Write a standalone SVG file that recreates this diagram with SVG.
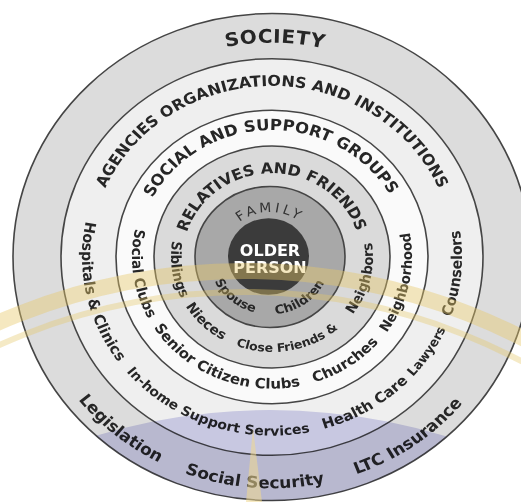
<svg xmlns="http://www.w3.org/2000/svg" width="521" height="502" viewBox="0 0 521 502">
<defs>
<style>
.ring{stroke:#454545;stroke-width:1.6}
.t{font-family:"DejaVu Sans","Liberation Sans",sans-serif;font-weight:bold;fill:#262626;text-anchor:middle}
.w{font-family:"DejaVu Sans","Liberation Sans",sans-serif;font-weight:bold;fill:#ffffff;text-anchor:middle}
</style>
<path id="p-soc-top" d="M -228,0 A 228 228 0 0 1 228,0"/>
<path id="p-soc-bot" d="M -213.04,-123 A 246 246 0 1 0 213.04,-123"/>
<path id="p-age-top" d="M -182,0 A 182 182 0 0 1 182,0"/>
<path id="p-age-bot" d="M -164.54,-95 A 190 190 0 1 0 164.54,-95"/>
<path id="p-sup-top" d="M -135,0 A 135 135 0 0 1 135,0"/>
<path id="p-sup-bot" d="M -121.24,-70 A 140 140 0 1 0 121.24,-70"/>
<path id="p-rel-top" d="M -89,0 A 89 89 0 0 1 89,0"/>
<path id="p-rel-bot" d="M -87.47,-50.5 A 101 101 0 1 0 87.47,-50.5"/>
<path id="p-fam-top" d="M -48,0 A 48 48 0 0 1 48,0"/>
<path id="p-fam-bot" d="M -52.83,-30.5 A 61 61 0 1 0 52.83,-30.5"/>
<clipPath id="outer-clip"><ellipse cx="272" cy="257" rx="259" ry="243.5"/></clipPath>
</defs>
<rect width="521" height="502" fill="#ffffff"/>
<g transform="translate(272,257) scale(1,0.94)">
  <g id="ring-society">
    <circle class="ring" r="259" fill="#dcdcdc"/>
    <text class="t" font-size="20" letter-spacing="0.5"><textPath href="#p-soc-top" startOffset="361">SOCIETY</textPath></text>
    <text class="t" font-size="17"><textPath href="#p-soc-bot" startOffset="345">Legislation</textPath></text>
    <text class="t" font-size="17"><textPath href="#p-soc-bot" startOffset="497">Social Security</textPath></text>
    <text class="t" font-size="17"><textPath href="#p-soc-bot" startOffset="667">LTC Insurance</textPath></text>
  </g>
  <g id="ring-agencies">
    <circle class="ring" r="211" fill="#efefef"/>
    <text class="t" font-size="16"><textPath href="#p-age-top" startOffset="286">AGENCIES ORGANIZATIONS AND INSTITUTIONS</textPath></text>
    <text class="t" font-size="15"><textPath href="#p-age-bot" startOffset="140">Hospitals &amp; Clinics</textPath></text>
    <text class="t" font-size="14"><textPath href="#p-age-bot" startOffset="334">In-home Support Services</textPath></text>
    <text class="t" font-size="15"><textPath href="#p-age-bot" startOffset="500">Health Care</textPath></text>
    <text class="t" font-size="13"><textPath href="#p-age-bot" startOffset="587">Lawyers</textPath></text>
    <text class="t" font-size="15"><textPath href="#p-age-bot" startOffset="678">Counselors</textPath></text>
  </g>
  <g id="ring-support-groups">
    <circle class="ring" r="156" fill="#fafafa"/>
    <text class="t" font-size="16.5"><textPath href="#p-sup-top" startOffset="210">SOCIAL AND SUPPORT GROUPS</textPath></text>
    <text class="t" font-size="14.5"><textPath href="#p-sup-bot" startOffset="92">Social Clubs</textPath></text>
    <text class="t" font-size="15"><textPath href="#p-sup-bot" startOffset="237">Senior Citizen Clubs</textPath></text>
    <text class="t" font-size="15"><textPath href="#p-sup-bot" startOffset="375">Churches</textPath></text>
    <text class="t" font-size="14"><textPath href="#p-sup-bot" startOffset="483">Neighborhood</textPath></text>
  </g>
  <g id="ring-relatives">
    <circle class="ring" r="118" fill="#dadada"/>
    <text class="t" font-size="16"><textPath href="#p-rel-top" startOffset="139">RELATIVES AND FRIENDS</textPath></text>
    <text class="t" font-size="14"><textPath href="#p-rel-bot" startOffset="67">Siblings</textPath></text>
    <text class="t" font-size="14"><textPath href="#p-rel-bot" startOffset="134">Nieces</textPath></text>
    <text class="t" font-size="12.5"><textPath href="#p-rel-bot" startOffset="229">Close Friends &amp;</textPath></text>
    <text class="t" font-size="14"><textPath href="#p-rel-bot" startOffset="345">Neighbors</textPath></text>
  </g>
</g>
<g transform="translate(270,257) scale(1,0.94)">
  <g id="ring-family">
    <circle class="ring" r="75" fill="#a8a8a8"/>
    <text class="t" font-size="14" letter-spacing="3" style="font-weight:normal;fill:#333"><textPath href="#p-fam-top" startOffset="75">FAMILY</textPath></text>
    <text class="t" font-size="13"><textPath href="#p-fam-bot" startOffset="85">Spouse</textPath></text>
    <text class="t" font-size="13"><textPath href="#p-fam-bot" startOffset="164">Children</textPath></text>
  </g>
</g>
<g id="node-older-person">
  <ellipse cx="268.5" cy="256.5" rx="40.5" ry="38.3" fill="#3b3b3b"/>
  <text class="w" x="270" y="256" font-size="16">OLDER</text>
  <text class="w" x="270" y="273" font-size="16">PERSON</text>
</g>
<g id="connectors"/>
<g id="watermark">
  <circle cx="270" cy="1010" r="600" fill="#d6d6f0" clip-path="url(#outer-clip)" style="mix-blend-mode:multiply"/>
  <circle cx="244" cy="882" r="611" fill="none" stroke="#e6c868" stroke-width="16" opacity="0.42"/>
  <circle cx="244" cy="882" r="590" fill="none" stroke="#e6c868" stroke-width="6" opacity="0.38"/>
  <polygon points="253,428 246,502 262,502" fill="#f0d890" opacity="0.55"/>
</g>
</svg>
